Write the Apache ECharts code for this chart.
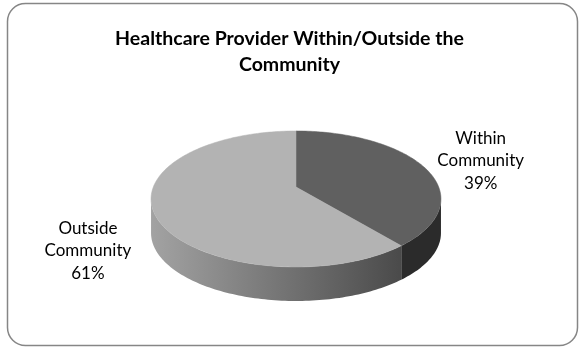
<!DOCTYPE html>
<html>
<head>
<meta charset="utf-8">
<script src="https://cdn.jsdelivr.net/npm/echarts@6/dist/echarts.min.js"></script>
<style>
html,body{margin:0;padding:0;background:#fff;}
#chart{width:579px;height:347px;}
</style>
</head>
<body>
<div id="chart"></div>
<script>
// ---- data ----
const titleText = 'Healthcare Provider Within/Outside the\nCommunity';
const categories = ['Within Community', 'Outside Community'];
const values = [39, 61];

// ---- style ----
const topColors = ['#606060', '#b3b3b3'];
const FONT = 'Lato';

// 3D pie projection parameters (pixels)
const CX = 296, CY = 187, A = 142.7, B = 65.9, K = 0.176, DEPTH = 34;
const SIL0 = Math.acos(-K), SIL1 = 2 * Math.PI - Math.acos(-K);

function proj(t, dy) {
  const s = Math.sin(t), c = Math.cos(t);
  const w = 1 + K * c;
  return [CX + A * s / w, CY - B * c / w + dy];
}

function arcPts(t0, t1, dy) {
  const n = Math.max(4, Math.ceil((t1 - t0) / 0.02));
  const pts = [];
  for (let j = 0; j <= n; j++) pts.push(proj(t0 + (t1 - t0) * j / n, dy));
  return pts;
}

const sideFills = [
  '#2b2b2b',
  new echarts.graphic.LinearGradient(150, 0, 402, 0, [
    { offset: 0, color: '#a3a3a3' },
    { offset: 1, color: '#4a4a4a' }
  ], true)
];

function renderItem(params, api) {
  const i = params.dataIndex;
  const total = values.reduce((a, b) => a + b, 0);
  let cum = 0;
  for (let k = 0; k < i; k++) cum += values[k];
  const v = api.value(0);
  const a0 = cum / total * 2 * Math.PI;
  const a1 = (cum + v) / total * 2 * Math.PI;
  const children = [];

  // visible side wall
  const s0 = Math.max(a0, SIL0), s1 = Math.min(a1, SIL1);
  if (s1 > s0) {
    const topEdge = arcPts(s0, s1, 0);
    const botEdge = arcPts(s0, s1, DEPTH).reverse();
    children.push({
      type: 'polygon', z2: 1,
      shape: { points: topEdge.concat(botEdge) },
      style: { fill: sideFills[i], stroke: null }
    });
  }

  // top face
  const topPts = [[CX, CY]].concat(arcPts(a0, a1, 0));
  children.push({
    type: 'polygon', z2: 2,
    shape: { points: topPts },
    style: { fill: topColors[i], stroke: topColors[i], lineWidth: 0.5 }
  });

  // label
  const mid = (a0 + a1) / 2;
  const sm = Math.sin(mid), cm = Math.cos(mid);
  const w = 1 + K * cm;
  const lx = CX + 208 * sm / w;
  const edgeY = CY - B * cm / w;
  const ly = edgeY + (cm < 0 ? DEPTH + 6 : -5);
  const name = categories[i];
  const pct = Math.round(v / total * 100) + '%';
  children.push({
    type: 'text', z2: 3,
    x: lx, y: ly,
    style: {
      text: name.split(' ').join('\n') + '\n' + pct,
      fill: '#000',
      font: '17px ' + FONT,
      lineHeight: 22.5,
      align: 'center',
      verticalAlign: 'middle'
    }
  });

  return { type: 'group', children: children };
}

const chart = echarts.init(document.getElementById('chart'), null, { renderer: 'canvas' });
chart.setOption({
  backgroundColor: '#ffffff',
  animation: false,
  title: {
    text: titleText,
    left: 'center',
    top: 21,
    textStyle: {
      fontFamily: FONT,
      fontWeight: 'bold',
      fontSize: 19.5,
      lineHeight: 26,
      color: '#000'
    }
  },
  graphic: [{
    type: 'rect',
    shape: { x: 7.5, y: 3.5, width: 570, height: 342, r: 18 },
    style: { fill: 'none', stroke: '#868686', lineWidth: 1.5 },
    z: -1
  }],
  series: [{
    type: 'custom',
    coordinateSystem: 'none',
    renderItem: renderItem,
    data: values.map((val, idx) => ({ name: categories[idx], value: val }))
  }]
});
</script>
</body>
</html>
